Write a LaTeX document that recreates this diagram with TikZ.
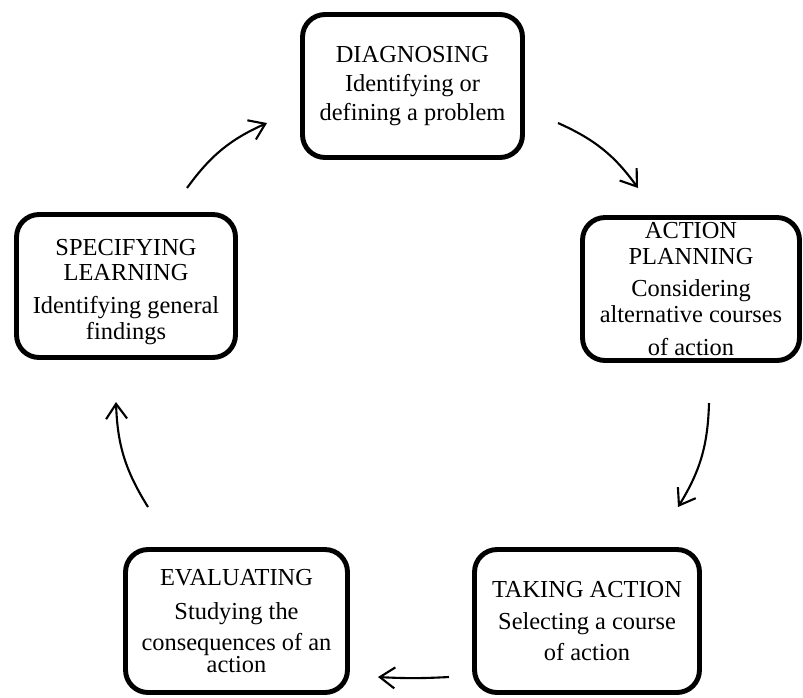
\documentclass[tikz,border=0pt]{standalone}
\usepackage{fontspec}
\setmainfont{Liberation Serif}
\usetikzlibrary{arrows.meta}

\begin{document}
\begin{tikzpicture}[x=0.02cm,y=-0.02cm,
  stage/.style={draw,line width=2.8pt,rounded corners=0.45cm,inner sep=0pt,
    minimum height=2.86cm,align=center,font=\fontsize{13.9pt}{14.6pt}\selectfont},
  flow/.style={line width=1.2pt,-{Straight Barb[length=0.3cm,width=0.42cm]}}]
  \useasboundingbox (0,0) rectangle (803,697);
  \node[stage,minimum width=4.4cm] (diag) at (412.5,86) {DIAGNOSING\\[1.7pt]Identifying or\\[1.7pt]defining a problem};
  \node[stage,minimum width=4.34cm] (plan) at (691,289) {ACTION\\PLANNING\\[4pt]Considering\\alternative courses\\[4pt]of action};
  \node[stage,minimum width=4.5cm] (act) at (587,621) {TAKING ACTION\\[3.7pt]Selecting a course\\[3.2pt]of action};
  \node[stage,minimum width=4.44cm] (eval) at (236.5,621) {EVALUATING\\[5.2pt]Studying the\\[2.7pt]consequences of an\\[-1.8pt]action};
  \node[stage,minimum width=4.38cm] (learn) at (126,286) {\rule{0pt}{16pt}SPECIFYING\\LEARNING\\[4.2pt]Identifying general\\findings};
  \coordinate (learn-out) at (187,188);
  \coordinate (diag-in) at (267,123);
  \coordinate (diag-out) at (558,123);
  \coordinate (plan-in) at (638,188);
  \coordinate (plan-out) at (709,403);
  \coordinate (act-in) at (678,507);
  \coordinate (act-out) at (449,677);
  \coordinate (eval-in) at (378,677);
  \coordinate (eval-out) at (148,507);
  \coordinate (learn-in) at (116,402);
  \draw[flow] (learn-out) to[bend left=15] (diag-in);
  \draw[flow] (diag-out) to[bend left=15] (plan-in);
  \draw[flow] (plan-out) to[bend left=15] (act-in);
  \draw[flow] (act-out) to[bend left=3] (eval-in);
  \draw[flow] (eval-out) to[bend left=15] (learn-in);
\end{tikzpicture}
\end{document}
